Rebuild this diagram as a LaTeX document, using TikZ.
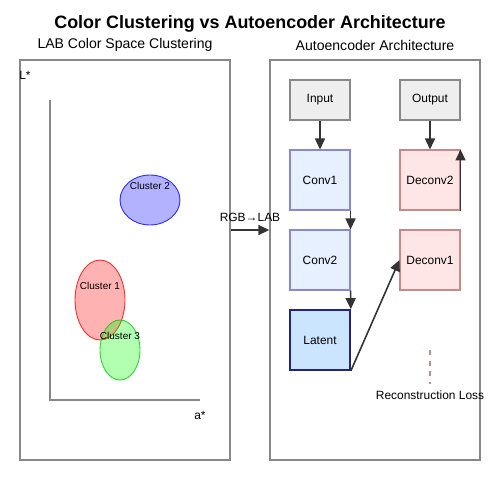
\documentclass[tikz,border=0pt]{standalone}
\usepackage{fontspec}
\setmainfont{Liberation Sans}
\usepackage{tikz}
\usetikzlibrary{shapes,arrows.meta,positioning}

\definecolor{panelgray}{HTML}{888888}
\definecolor{arrowgray}{HTML}{333333}
\definecolor{iofill}{HTML}{EEEEEE}
\definecolor{encfill}{HTML}{E6F0FF}
\definecolor{encdraw}{HTML}{8888CC}
\definecolor{latfill}{HTML}{CCE5FF}
\definecolor{latdraw}{HTML}{222288}
\definecolor{decfill}{HTML}{FFE6E6}
\definecolor{decdraw}{HTML}{CC8888}

\begin{document}
\begin{tikzpicture}[x=0.02cm, y=-0.02cm, font=\fontsize{6.8}{8}\selectfont]
    \tikzstyle{panel} = [rectangle, draw=panelgray, line width=0.8pt]
    \tikzstyle{io} = [rectangle, draw=panelgray, fill=iofill, line width=0.6pt, minimum width=1.2cm, minimum height=0.8cm, inner sep=0pt]
    \tikzstyle{encoder} = [rectangle, draw=encdraw, fill=encfill, line width=0.6pt, minimum width=1.2cm, minimum height=1.2cm, inner sep=0pt]
    \tikzstyle{latent} = [rectangle, draw=latdraw, fill=latfill, line width=1pt, minimum width=1.2cm, minimum height=1.2cm, inner sep=0pt]
    \tikzstyle{decoder} = [rectangle, draw=decdraw, fill=decfill, line width=0.6pt, minimum width=1.2cm, minimum height=1.2cm, inner sep=0pt]
    \tikzstyle{cluster} = [ellipse, line width=0.5pt, fill opacity=0.3, draw opacity=0.8, inner sep=0pt]
    \tikzstyle{axis} = [draw=panelgray, line width=0.8pt]
    \tikzstyle{arrow} = [arrowgray, line width=0.9pt, -{Triangle[length=0.22cm, width=0.2cm]}]
    \useasboundingbox (0,0) rectangle (500,500);

    % Titles
    \node[font=\fontsize{10.2}{12}\selectfont\bfseries] (title) at (250,24) {Color Clustering vs Autoencoder Architecture};
    \node[font=\fontsize{8}{10}\selectfont] (labtitle) at (125,45) {LAB Color Space Clustering};
    \node[font=\fontsize{8}{10}\selectfont] (aetitle) at (375,45) {Autoencoder Architecture};

    % Panels
    \node[panel, minimum width=4.2cm, minimum height=8cm, inner sep=0pt] (labpanel) at (125,260) {};
    \node[panel, minimum width=4.2cm, minimum height=8cm, inner sep=0pt] (aepanel) at (375,260) {};

    % LAB axes
    \coordinate (origin) at (50,400);
    \coordinate (ltop) at (50,100);
    \coordinate (aend) at (200,400);
    \draw[axis] (ltop) -- (origin) -- (aend);
    \node (lstar) at (25,75) {L*};
    \node (astar) at (200,415) {a*};

    % Clusters
    \node[cluster, draw=blue, fill=blue, minimum width=1.2cm, minimum height=1cm] (c2) at (150,200) {};
    \node[cluster, draw=red, fill=red, minimum width=1cm, minimum height=1.6cm] (c1) at (100,300) {};
    \node[cluster, draw=green!80!black, fill=green, minimum width=0.8cm, minimum height=1.2cm] (c3) at (120,350) {};
    \node[font=\fontsize{5.7}{7}\selectfont] at (150,186) {Cluster 2};
    \node[font=\fontsize{5.7}{7}\selectfont] at (100,286) {Cluster 1};
    \node[font=\fontsize{5.7}{7}\selectfont] at (120,336) {Cluster 3};

    % Conversion
    \draw[arrow] ([yshift=0.6cm]labpanel.east) -- node[above, black, yshift=1pt] {RGB→LAB} ([yshift=0.6cm]aepanel.west);

    % Encoder
    \node[io] (input) at (320,100) {Input};
    \node[encoder] (conv1) at (320,180) {Conv1};
    \node[encoder] (conv2) at (320,260) {Conv2};
    \node[latent] (latentbox) at (320,340) {Latent};

    % Decoder
    \node[io] (output) at (430,100) {Output};
    \node[decoder] (deconv2) at (430,180) {Deconv2};
    \node[decoder] (deconv1) at (430,260) {Deconv1};

    % Arrows
    \draw[arrow] (input) -- (conv1);
    \draw[arrow] (conv1.south east) -- (conv2.north east);
    \draw[arrow] (conv2.south east) -- (latentbox.north east);
    \draw[arrow] (latentbox.south east) -- (deconv1.west);
    \draw[arrow] (deconv2.south east) -- (deconv2.north east);
    \draw[arrow] (output) -- (deconv2);

    % Reconstruction loss
    \node (loss) at (430,395) {Reconstruction Loss};
    \coordinate (losstop) at (430,350);
    \draw[decdraw, dashed, line width=0.6pt] (losstop) -- (loss.north);
\end{tikzpicture}
\end{document}
